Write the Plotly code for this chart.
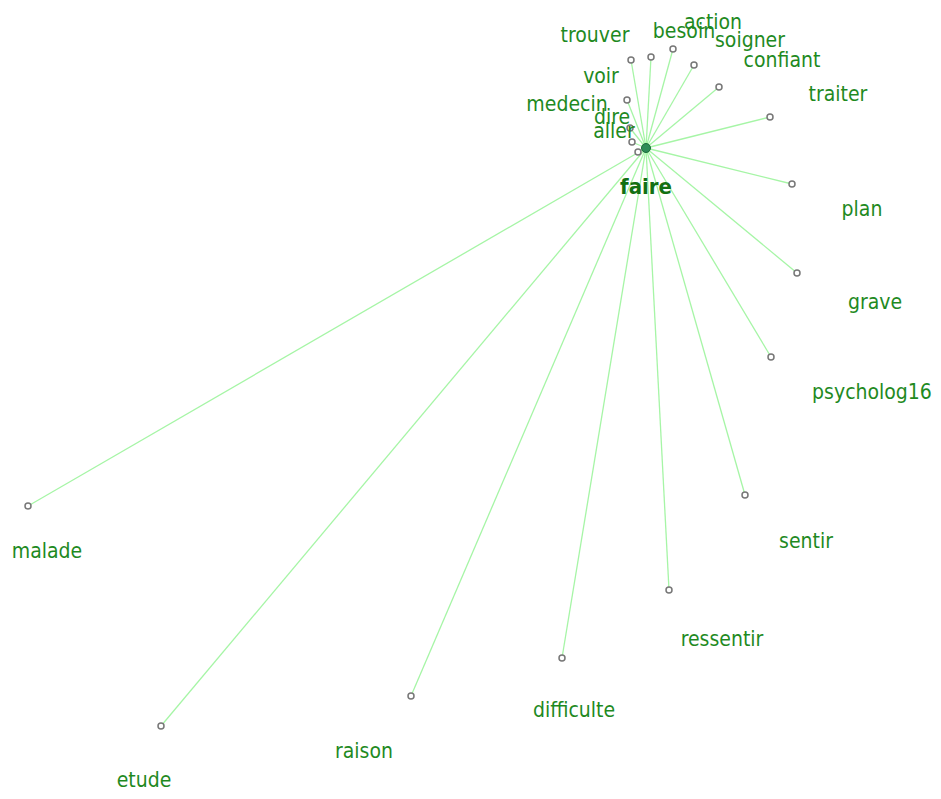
import plotly.graph_objects as go

# network of "faire" and its neighbours (pixel-space layout)
center = "faire"
center_x, center_y = 646, 148
center_lx, center_ly = 646, 188

words   = ["trouver", "besoin", "action", "soigner", "confiant", "traiter", "plan",
           "grave", "psycholog16", "sentir", "ressentir", "difficulte", "raison",
           "etude", "malade", "voir", "medecin", "dire", "aller"]
node_x  = [631, 651, 673, 694, 719, 770, 792, 797, 771, 745, 669, 562, 411, 161, 28, 627, 630, 632, 638]
node_y  = [60, 57, 49, 65, 87, 117, 184, 273, 357, 495, 590, 658, 696, 726, 506, 100, 128, 142, 152]
label_x = [595, 684, 713, 750, 782, 838, 862, 875, 872, 806, 722, 574, 364, 144, 47, 601, 567, 612, 614]
label_y = [37, 33, 24, 42, 62, 96, 211, 304, 394, 543, 641, 712, 753, 782, 553, 78, 106, 119, 133]

FONT = "DejaVu Sans Condensed, Liberation Sans Narrow, Arial Narrow, sans-serif"
GREEN = "#1f8a1f"

edge_x, edge_y = [], []
for x, y in zip(node_x, node_y):
    edge_x += [center_x, x, None]
    edge_y += [center_y, y, None]

fig = go.Figure()
fig.add_trace(go.Scatter(x=edge_x, y=edge_y, mode="lines",
                         line=dict(color="#a6f5a6", width=1.3),
                         hoverinfo="skip", showlegend=False))
fig.add_trace(go.Scatter(x=node_x, y=node_y, mode="markers",
                         marker=dict(size=6, color="white",
                                     line=dict(color="#777777", width=1.5)),
                         text=words, hoverinfo="text", showlegend=False))
fig.add_trace(go.Scatter(x=[center_x], y=[center_y], mode="markers",
                         marker=dict(size=9, color="#2e8b57",
                                     line=dict(color="#1a6b3a", width=1)),
                         text=[center], hoverinfo="text", showlegend=False))
fig.add_trace(go.Scatter(x=label_x, y=label_y, mode="text", text=words,
                         textfont=dict(family=FONT, size=21, color=GREEN),
                         cliponaxis=False, hoverinfo="skip", showlegend=False))
fig.add_trace(go.Scatter(x=[center_lx], y=[center_ly], mode="text",
                         text=["<b>" + center + "</b>"],
                         textfont=dict(family=FONT, size=22, color="#137013"),
                         cliponaxis=False, hoverinfo="skip", showlegend=False))

# the page body has an 8px margin: shift the axes so data units equal page pixels
fig.update_layout(
    width=925, height=783,
    margin=dict(l=0, r=0, t=0, b=0),
    plot_bgcolor="white", paper_bgcolor="white",
    xaxis=dict(range=[8, 933], visible=False),
    yaxis=dict(range=[791, 8], visible=False),
)

fig.write_html("out.html")
